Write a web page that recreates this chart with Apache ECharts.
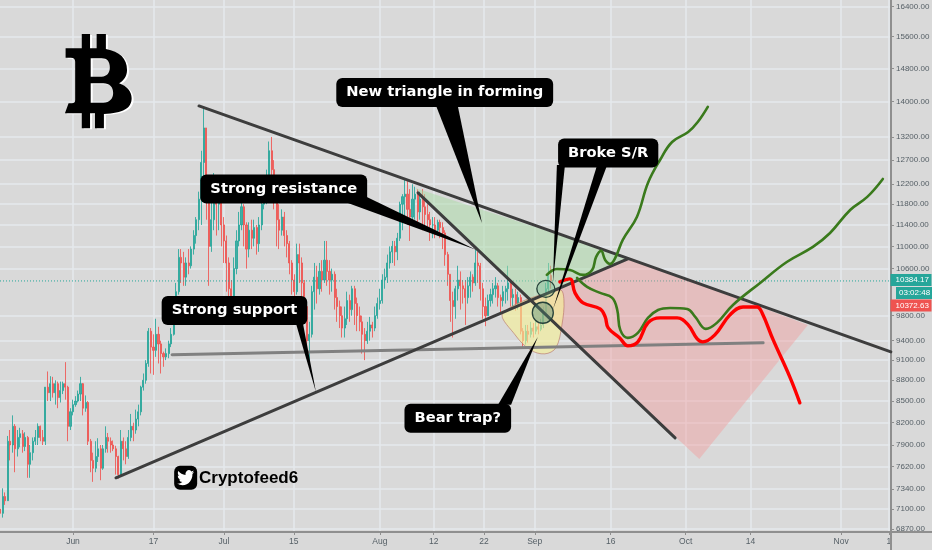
<!DOCTYPE html>
<html><head><meta charset="utf-8">
<style>html,body{margin:0;padding:0;background:#d9d9d9}#c{width:932px;height:550px}</style>
<script src="https://cdn.jsdelivr.net/npm/echarts@6/dist/echarts.min.js"></script>
</head><body><div id="c"></div>
<script>
const priceTicks=[16400,15600,14800,14000,13200,12700,12200,11800,11400,11000,10600,9800,9400,9100,8800,8500,8200,7900,7620,7340,7100,6870];
const dayTicks=[0,16,30,43.9,61,71.7,81.7,91.8,106.9,121.8,134.7,152.7,162.2];
const dayLabels=['Jun','17','Jul','15','Aug','12','22','Sep','16','Oct','14','Nov','1'];
const firstDay=-14.5, candleStep=0.5, firstOpen=7100;
const closes=[7050,7250,7200,7950,7900,8150,7850,8000,8050,7880,8000,7650,7800,7950,8000,8150,8000,7950,8700,8620,8750,8620,8750,8550,8650,8750,8700,8150,8350,8450,8500,8600,8750,8400,8480,7950,7700,7600,7750,7850,7600,7850,8000,7950,7900,7850,7750,7520,7950,7850,7750,8000,8150,8100,8250,8350,8700,8800,9050,9550,9300,9250,9500,9350,9200,9150,9200,9350,9500,9850,10200,10800,10700,10450,10700,10650,10950,11200,11500,11900,12650,13400,12000,11000,11500,12100,11800,11950,11400,11100,10700,10250,10000,10600,11100,11400,11750,11400,10950,11300,11150,11350,11050,11400,11800,12000,12200,12900,12500,12000,11500,11300,11550,11200,11050,10700,10400,10200,10850,10700,10350,9950,9400,9500,10200,10450,10250,10550,10400,10750,10550,10400,10500,10100,9950,9800,9600,9750,10050,9900,10250,10000,9800,9700,9500,9400,9550,9650,9600,9800,10000,10050,10400,10450,10700,10900,11000,10900,11150,11800,11950,12000,11700,11550,11900,12000,11650,11900,11750,11600,11500,11400,11400,11300,11450,11350,11250,10850,10500,10050,9950,10250,10400,10300,10250,10100,10300,10450,10350,10700,10650,10250,9950,9800,10050,10150,10250,10300,10100,10050,10200,10250,10350,10100,10150,10000,10100,9550,9400,9550,9500,9600,9550,9620,9580,9650,9850,10250,10480,10384];
const highs=[7150,7350,7300,8020,8100,8300,8180,8100,8130,8100,8070,8020,7900,8000,8100,8190,8160,8100,8700,8930,8860,8850,8800,8780,8780,8780,9070,8720,8400,8520,8570,8650,8850,8760,8580,8500,7980,7800,7950,7990,7900,7900,8150,8060,8000,7960,7890,7760,8100,8000,7950,8100,8320,8200,8380,8450,8720,8900,9100,9600,9600,9500,9750,9620,9400,9230,9280,9400,9600,9900,10350,10950,10950,10900,10800,10950,11000,11300,11550,12050,12900,13880,13400,12000,11900,12430,12200,12100,11950,11550,11200,10800,10400,10800,11300,11650,11950,11800,11450,11450,11500,11500,11400,11550,12000,12300,12500,13100,13200,12700,12050,11800,11700,11650,11300,11100,10750,10500,11050,11050,10800,10400,10000,9700,10300,10700,10650,10700,10750,11100,11100,10750,10600,10550,10250,10050,9950,9950,10200,10150,10300,10300,10100,9950,9800,9600,9700,9780,9700,9950,10100,10250,10500,10600,10850,11000,11100,11100,11250,11850,12000,12300,12300,12100,12200,12150,12100,12050,12100,12000,11800,11650,11550,11550,11500,11500,11450,11300,10900,10500,10200,10300,10650,10550,10400,10400,10450,10550,10500,10950,10900,10700,10350,10100,10150,10250,10350,10450,10350,10150,10300,10300,10650,10400,10250,10250,10200,10150,9600,9650,9650,9700,9680,9720,9700,9750,9950,10350,10700,10650];
const lows=[6960,7000,7150,7200,7700,7800,7550,7750,7870,7800,7820,7480,7480,7700,7900,7900,7950,7900,7900,8500,8500,8550,8450,8400,8480,8600,8520,7950,8100,8300,8420,8480,8500,8300,8350,7900,7550,7430,7550,7680,7450,7580,7800,7800,7800,7820,7520,7470,7510,7700,7650,7720,7950,7950,8050,8150,8300,8650,8750,9000,8900,8880,9150,9050,8900,9000,9100,9130,9300,9480,9800,10150,10350,10300,10300,10500,10600,10850,11050,11300,11400,12300,11500,10300,10900,11300,11200,11300,11000,10700,10200,9950,9700,9900,10500,11000,11300,11000,10600,10800,10950,11000,10850,10900,11300,11700,11800,12000,12100,11700,11000,10950,11200,11000,10800,10500,10150,9850,10150,10350,10100,9700,9150,9100,9450,9900,10000,10150,10200,10350,10300,10150,10200,9900,9700,9600,9450,9450,9650,9700,9800,9650,9550,9550,9200,9100,9350,9400,9450,9550,9750,9900,10000,10250,10350,10600,10700,10650,10750,11100,11300,11500,11400,11100,11400,11500,11350,11500,11300,11350,11300,11100,11150,11150,11200,11150,10950,10650,10300,9700,9450,9750,10050,9900,10000,9650,10000,10100,10200,10300,10350,10050,9750,9630,9800,9950,10000,10100,9950,9850,9950,10000,10050,9950,9950,9880,9900,9500,9300,9340,9370,9450,9450,9500,9500,9550,9600,9800,10150,10250];
const upperLine=[[25.05,13900],[162.6,9227]];
const lowerLine=[[8.55,7480],[110.3,10772]];
const fallingLine=[[68.6,12026],[119.7,7995]];
const flatLine=[[19.7,9181],[137.2,9366]];
const lastPriceLine=[[-14.51,10384],[162.62,10384]];
const greenPath1=[[94.2,10489],[96.2,10594],[98.8,10576],[101.4,10489],[103.2,10576],[104,10809],[105,10918],[105.8,10754],[106.8,10683],[107.8,10790],[109.3,11118],[112.1,11553],[114.3,12227],[116.7,12703],[119.1,13090],[122.3,13310],[124.2,13534],[126.2,13880]];
const greenPath2=[[100.2,10437],[102.2,10281],[104.8,10179],[107.2,10095],[108.2,9894],[108.8,9571],[110.3,9444],[112.3,9523],[114.3,9764],[116.3,9894],[118.7,9927],[122.1,9911],[123.7,9780],[125.8,9587],[128,9683],[131.2,9977],[136.6,10350],[141.9,10718],[147.1,10990],[150.5,11248],[154.5,11688],[157.9,11945],[161,12308]];
const redPath=[[96.8,10368],[98.8,10420],[99.8,10179],[101.4,10011],[104.8,9911],[105.8,9780],[106.4,9603],[108.7,9444],[110.3,9319],[112.3,9381],[114.3,9683],[116.7,9764],[120.1,9764],[122.3,9651],[124.1,9428],[125.2,9381],[127.6,9491],[130.6,9813],[133.2,9944],[136,9944],[137,9845],[139.2,9412],[142.5,8850],[144.5,8475]];
const greenZone=[[68,12125],[110.7,10792],[90.9,10029]];
const redZone=[[90.9,10029],[110.7,10792],[146.1,9650],[124.5,7718]];
const yellowZone=[[85.5,9845],[87.9,9491],[90.9,9258],[93.8,9196],[96,9289],[97.2,9650],[97.6,10059],[96.8,10229]];
const tails=[[[72.2,13900],[76.5,13900],[81.3,11439]],[[54.1,11846],[57.9,11966],[80.1,10936]],[[44.3,9683],[45.7,9683],[48.3,8631]],[[96.2,12598],[97.8,12598],[95.4,10350]],[[104.2,12598],[106.2,12598],[95.4,9896]],[[84.5,8448],[87.1,8448],[92.4,9459]]];
const noteTexts=['New triangle in forming','Strong resistance','Strong support','Broke S/R','Bear trap?'];
const notePoints=[[73.9,14217],[41.9,12103],[32.1,9886],[106.4,12852],[76.5,8259]];
const circles=[[94,10248],[93.4,9848]];
const tagPrices=[10384.17,10372.63];
const iconPoint=[22.4,7480];
const logoPoint=[5.03,14486];

const opens=closes.map((c,i)=>i?closes[i-1]:firstOpen);
const candles=closes.map((c,i)=>[firstDay+i*candleStep,opens[i],c,lows[i],highs[i]]);
const UP='#26a69a',DOWN='#ef5350',LINE='#3d3d3d',TXT='Liberation Sans';
function poly(points,style,z,smooth){return {type:'custom',silent:true,z:z,animation:false,clip:false,data:points,encode:{x:0,y:1},
  renderItem(p,api){if(p.dataIndex>0)return null;return {type:'polygon',shape:{points:points.map(q=>api.coord(q)),smooth:smooth||0},style:style};}};}
function ln(data,color,width,z,extra){return Object.assign({type:'line',data:data,showSymbol:false,symbol:'none',silent:true,animation:false,z:z,lineStyle:{color:color,width:width,cap:'round'}},extra||{});}
const chart=echarts.init(document.getElementById('c'),null,{renderer:'canvas'});
const birdPath='path://M23.953 4.57a10 10 0 0 1-2.825.775 4.958 4.958 0 0 0 2.163-2.723c-.951.555-2.005.959-3.127 1.184a4.92 4.92 0 0 0-8.384 4.482C7.69 8.095 4.067 6.13 1.64 3.162a4.822 4.822 0 0 0-.666 2.475c0 1.71.87 3.213 2.188 4.096a4.904 4.904 0 0 1-2.228-.616v.06a4.923 4.923 0 0 0 3.946 4.827 4.996 4.996 0 0 1-2.212.085 4.936 4.936 0 0 0 4.604 3.417 9.867 9.867 0 0 1-6.102 2.105c-.39 0-.779-.023-1.17-.067a13.995 13.995 0 0 0 7.557 2.209c9.053 0 13.998-7.496 13.998-13.985 0-.21 0-.42-.015-.63A9.935 9.935 0 0 0 24 4.59z';
const logoPath='path://M155 42 L180 42 L180 85 L200 85 L200 42 L228 42 L228 87 C270 95 292 115 292 150 C292 168 282 182 268 190 C292 198 306 215 306 235 C306 265 280 280 222 282 L222 325 L195 325 L195 280 L180 280 L180 325 L155 325 L155 280 L104 280 L115 250 L125 250 Q135 250 135 240 L135 125 Q135 113 122 113 L106 113 L106 85 L155 85 Z M182 115 L182 170 L215 170 C232 170 240 158 240 142 C240 125 232 115 215 115 Z M182 190 L182 248 L220 248 C240 248 250 235 250 219 C250 202 240 190 220 190 Z';
const solid=c=>({color:c,opacity:1});
chart.setOption({
 animation:false,backgroundColor:'#d9d9d9',
 textStyle:{fontFamily:TXT},
 grid:{left:0,top:0,width:891,height:532,containLabel:false,outerBoundsMode:'none'},
 xAxis:{type:'value',min:-14.51,max:162.62,position:'bottom',
  axisLine:{show:true,onZero:false,lineStyle:{color:'#8f8f8f',width:2}},
  axisTick:{show:true,length:3,lineStyle:{color:'#8f8f8f'},customValues:dayTicks},
  axisLabel:{customValues:dayTicks,margin:5,fontSize:8.5,fontFamily:TXT,color:'#555f66',hideOverlap:false,showMinLabel:true,showMaxLabel:true,formatter:v=>dayLabels[dayTicks.indexOf(v)]||''},
  splitLine:{show:true,lineStyle:{color:'#e4e9ed',width:1.5}}},
 yAxis:{type:'log',logBase:10,min:6834,max:16584,position:'right',
  axisLine:{show:true,onZero:false,lineStyle:{color:'#8f8f8f',width:2}},
  axisTick:{show:true,length:3,lineStyle:{color:'#8f8f8f'},customValues:priceTicks},
  axisLabel:{customValues:priceTicks,margin:5,fontSize:8,fontFamily:TXT,color:'#555f66',formatter:v=>Number(v).toFixed(2)},
  splitLine:{show:true,lineStyle:{color:'#e4e9ed',width:1.5}}},
 series:[
  {type:'candlestick',data:candles,encode:{x:0,y:[1,2,3,4]},barWidth:1.6,z:2,silent:true,animation:false,
   itemStyle:{color:UP,color0:DOWN,borderColor:UP,borderColor0:DOWN,borderWidth:1,opacity:0.85}},
  ln(lastPriceLine,UP,1,3,{lineStyle:{color:UP,width:1,type:[1,2]}}),
  poly(greenZone,{fill:'rgba(170,220,165,0.5)'},4),
  poly(redZone,{fill:'rgba(245,150,150,0.4)'},4),
  poly(yellowZone,{fill:'rgba(245,240,150,0.62)',stroke:'rgba(180,110,100,0.6)',lineWidth:1},5,0.35),
  ln(flatLine,'#808080',3,6),
  ln(upperLine,LINE,3,7),ln(lowerLine,LINE,3,7),ln(fallingLine,LINE,3,7),
  ln(greenPath1,'#3a7a1c',2.6,8,{smooth:0.4}),ln(greenPath2,'#3a7a1c',2.6,8,{smooth:0.4}),ln(redPath,'#ff0000',3.4,8,{smooth:0.4}),
  {type:'scatter',data:[circles[0]],symbol:'circle',symbolSize:[18,17],z:9,silent:true,animation:false,itemStyle:{color:'rgba(90,170,130,0.25)',borderColor:'#26413a',borderWidth:1.3,opacity:1}},
  {type:'scatter',data:[circles[1]],symbol:'circle',symbolSize:[21,21],z:9,silent:true,animation:false,itemStyle:{color:'rgba(70,130,110,0.4)',borderColor:'#26413a',borderWidth:1.3,opacity:1}},
  ...tails.map(t=>poly(t,{fill:'#000'},10)),
  {type:'scatter',z:11,silent:true,animation:false,symbolSize:1,itemStyle:solid('rgba(0,0,0,0)'),
   data:notePoints.map((p,i)=>({value:p,name:noteTexts[i]})),
   label:{show:true,position:'inside',formatter:o=>o.name,color:'#fff',fontFamily:'DejaVu Sans',fontWeight:'bold',fontSize:14.7,backgroundColor:'#000',borderRadius:6,padding:[7,10,7,10]}},
  {type:'scatter',z:12,silent:true,animation:false,symbolSize:1,clip:false,itemStyle:solid('rgba(0,0,0,0)'),
   data:[{value:[162.62,tagPrices[0]],c:UP,name:'10384.17'},{value:[162.62,tagPrices[1]],c:DOWN,name:'10372.63'}].map((d,i)=>({value:d.value,name:d.name,
     label:{show:true,position:'right',distance:-1,formatter:d.name,color:'#fff',fontSize:8,fontFamily:TXT,backgroundColor:d.c,padding:[1,1,0,5],offset:[0,i?24:-1],width:35,height:11,lineHeight:11,align:'left'}}))},
  {type:'scatter',z:25,silent:true,animation:false,data:[iconPoint],symbol:'roundRect',symbolSize:[23,24],itemStyle:solid('#000')},
  {type:'scatter',z:26,silent:true,animation:false,data:[iconPoint],symbol:birdPath,symbolSize:[17,15],symbolKeepAspect:false,itemStyle:solid('#fff')},
  {type:'scatter',z:24,silent:true,animation:false,data:[logoPoint],symbol:logoPath,symbolSize:[66.7,94.3],symbolOffset:[2,1],itemStyle:solid('#fff')},
  {type:'scatter',z:25,silent:true,animation:false,data:[logoPoint],symbol:logoPath,symbolSize:[66.7,94.3],itemStyle:solid('#000')}
 ],
 graphic:[
  {type:'text',z:20,x:199,y:470,style:{text:'Cryptofeed6',font:'bold 17px "Liberation Sans"',fill:'#000'}},
  {type:'line',z:1,shape:{x1:891,y1:532,x2:932,y2:532},style:{stroke:'#8f8f8f',lineWidth:2}},
  {type:'line',z:1,shape:{x1:891,y1:532,x2:891,y2:550},style:{stroke:'#8f8f8f',lineWidth:2}},
  {type:'rect',z:22,shape:{x:896,y:287,width:36,height:12},style:{fill:UP}},
  {type:'text',z:23,x:899,y:289,style:{text:'03:02:48',font:'8px "Liberation Sans"',fill:'#fff'}}
 ]
});
</script></body></html>
